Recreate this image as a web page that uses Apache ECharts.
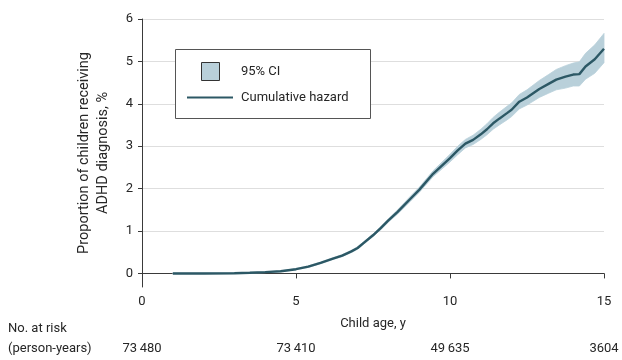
<!DOCTYPE html>
<html>
<head>
<meta charset="utf-8">
<script src="https://cdn.jsdelivr.net/npm/echarts@6/dist/echarts.min.js"></script>
<style>
html,body{margin:0;padding:0;background:#fff;}
#chart{width:622px;height:360px;}
</style>
</head>
<body>
<div id="chart"></div>
<script>
// ---- data ----
var ageYears = [1, 2, 3, 3.5, 4, 4.5, 5, 5.4, 5.8, 6.2, 6.5, 6.8, 7.0, 7.2, 7.5, 7.75, 8.0, 8.3, 8.7, 9.0, 9.45, 10.0, 10.25, 10.5, 10.75, 11.0, 11.2, 11.4, 11.6, 11.85, 12.0, 12.25, 12.5, 12.9, 13.2, 13.45, 13.75, 14.0, 14.2, 14.4, 14.7, 15.0];
var cumHazard = [0, 0, 0.005, 0.015, 0.03, 0.05, 0.1, 0.16, 0.25, 0.35, 0.42, 0.52, 0.6, 0.72, 0.9, 1.07, 1.25, 1.45, 1.75, 1.97, 2.35, 2.72, 2.9, 3.06, 3.15, 3.28, 3.4, 3.54, 3.65, 3.78, 3.86, 4.05, 4.15, 4.35, 4.47, 4.57, 4.64, 4.69, 4.7, 4.88, 5.05, 5.3];
var ciUpper = [0.01, 0.01, 0.015, 0.025, 0.04, 0.06, 0.115, 0.18, 0.27, 0.37, 0.445, 0.545, 0.63, 0.75, 0.93, 1.11, 1.29, 1.5, 1.81, 2.03, 2.42, 2.81, 3.0, 3.16, 3.26, 3.40, 3.53, 3.68, 3.80, 3.94, 4.02, 4.22, 4.33, 4.55, 4.69, 4.81, 4.9, 4.96, 4.99, 5.19, 5.39, 5.66];
var ciLower = [0, 0, 0, 0.005, 0.02, 0.04, 0.085, 0.14, 0.23, 0.33, 0.395, 0.495, 0.57, 0.69, 0.87, 1.03, 1.21, 1.4, 1.69, 1.91, 2.28, 2.63, 2.8, 2.96, 3.04, 3.16, 3.27, 3.40, 3.50, 3.62, 3.70, 3.88, 3.97, 4.15, 4.25, 4.33, 4.37, 4.42, 4.42, 4.58, 4.72, 4.97];
var yTicks = [0, 1, 2, 3, 4, 5, 6];
var xTicks = [0, 5, 10, 15];
var atRiskAges = [0, 5, 10, 15];
var atRiskLabels = ['73\u2009480', '73\u2009410', '49\u2009635', '3604'];

// ---- styles ----
var FONT = 'Roboto';
var TXT = '#262626';
var LINE_C = '#2c5865';
var BAND_C = '#b9d0da';

var lineData = ageYears.map(function (x, i) { return [x, cumHazard[i]]; });
// one data item per band point: [x, lower, upper]
var bandData = ageYears.map(function (x, i) { return [x, ciLower[i], ciUpper[i]]; });

var chart = echarts.init(document.getElementById('chart'), null, {renderer: 'canvas'});

var option = {
  animation: false,
  backgroundColor: '#fff',
  textStyle: {fontFamily: FONT},
  grid: {left: 142, right: 18, top: 19, bottom: 73, containLabel: false},
  xAxis: {
    type: 'value', min: 0, max: 15, interval: 5,
    name: 'Child age, y', nameLocation: 'middle', nameGap: 30,
    nameTextStyle: {color: TXT, fontSize: 13, fontFamily: FONT},
    axisLine: {show: true, lineStyle: {color: '#3a3a3a', width: 1}},
    axisTick: {show: true, length: 5, lineStyle: {color: '#3a3a3a'}},
    axisLabel: {color: TXT, fontSize: 13, fontFamily: FONT, margin: 8, customValues: xTicks},
    splitLine: {show: false}
  },
  yAxis: {
    type: 'value', min: -0.32, max: 6,
    name: 'Proportion of children receiving\nADHD diagnosis, %', nameLocation: 'middle', nameGap: 29,
    nameTextStyle: {color: TXT, fontSize: 14.5, fontFamily: FONT, lineHeight: 19},
    axisLine: {show: true, lineStyle: {color: '#3a3a3a', width: 1}},
    axisTick: {show: true, length: 4, lineStyle: {color: '#3a3a3a'}, customValues: yTicks},
    axisLabel: {color: TXT, fontSize: 13, fontFamily: FONT, margin: 9, customValues: yTicks},
    splitLine: {show: true, lineStyle: {color: '#dedede', width: 1}}
  },
  series: [
    {
      name: '95% CI', type: 'custom', data: bandData, silent: true, z: 3,
      encode: {x: 0, y: [1, 2]},
      renderItem: function (params, api) {
        if (params.dataIndex !== 0) return null;
        var upper = [], lower = [];
        for (var i = 0; i < bandData.length; i++) {
          upper.push(api.coord([bandData[i][0], bandData[i][2]]));
          lower.push(api.coord([bandData[i][0], bandData[i][1]]));
        }
        var pts = upper.concat(lower.reverse());
        return {type: 'polygon', shape: {points: pts}, style: {fill: BAND_C, stroke: BAND_C, lineWidth: 0.8}};
      }
    },
    {
      name: 'Cumulative hazard', type: 'line', data: lineData,
      symbol: 'none', lineStyle: {color: LINE_C, width: 2.4}, z: 5
    }
  ]
};
chart.setOption(option);

// legend & at-risk table as text/graphics
var graphics = [
  {type: 'rect', shape: {x: 175.5, y: 49.5, width: 195, height: 69},
   style: {fill: '#fff', stroke: '#555', lineWidth: 1}, z: 10},
  {type: 'rect', shape: {x: 201.5, y: 62.5, width: 18, height: 18},
   style: {fill: BAND_C, stroke: '#333', lineWidth: 1}, z: 11},
  {type: 'line', shape: {x1: 187, y1: 97.5, x2: 233, y2: 97.5},
   style: {stroke: LINE_C, lineWidth: 2}, z: 11},
  {type: 'text', x: 241, y: 72, z: 11,
   style: {text: '95% CI', fill: TXT, font: '13px ' + FONT, textVerticalAlign: 'middle'}},
  {type: 'text', x: 241, y: 98, z: 11,
   style: {text: 'Cumulative hazard', fill: TXT, font: '13px ' + FONT, textVerticalAlign: 'middle'}},
  {type: 'text', x: 8, y: 329,
   style: {text: 'No. at risk', fill: TXT, font: '13px ' + FONT, textVerticalAlign: 'middle'}},
  {type: 'text', x: 8, y: 349,
   style: {text: '(person-years)', fill: TXT, font: '13px ' + FONT, textVerticalAlign: 'middle'}}
];
atRiskAges.forEach(function (a, i) {
  var px = chart.convertToPixel({xAxisIndex: 0}, a);
  graphics.push({type: 'text', x: px, y: 349,
    style: {text: atRiskLabels[i], fill: TXT, font: '13px ' + FONT, textAlign: 'center', textVerticalAlign: 'middle'}});
});
chart.setOption({graphic: graphics});
</script>
</body>
</html>
